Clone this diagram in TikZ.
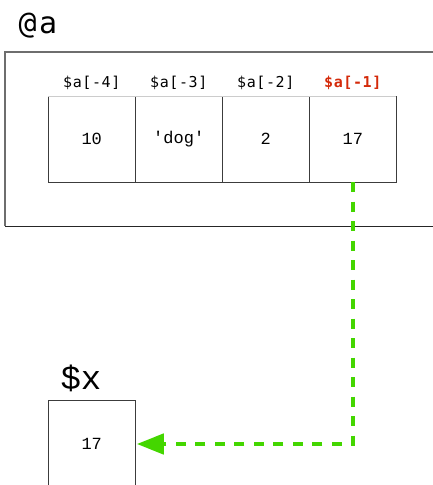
\documentclass[tikz,border=0pt]{standalone}
\usepackage{fontspec}
\usepackage{xcolor}
\usetikzlibrary{arrows.meta,positioning}
\newfontfamily\monosans[LetterSpace=4]{DejaVu Sans Mono}
\newfontfamily\monobig[LetterSpace=8]{DejaVu Sans Mono}
\newfontfamily\monoserif{Liberation Mono}
\definecolor{linkgreen}{HTML}{44D600}
\definecolor{lastred}{HTML}{D42A0A}
\definecolor{cellgray}{HTML}{3C3C3C}
\definecolor{framegray}{HTML}{6E6E6E}

\begin{document}
\begin{tikzpicture}[
  x=1pt,y=1pt,
  cell/.style={draw=cellgray,line width=.9pt,outer sep=0pt,minimum width=87pt,minimum height=86pt,
    font=\monoserif\fontsize{17}{19}\selectfont},
  idx/.style={font=\monosans\fontsize{15}{17}\selectfont,inner sep=0pt},
  varname/.style={inner sep=0pt}
]
  \useasboundingbox (0,0) rectangle (432,-485);
  % the array
  \draw[framegray,line width=1.1pt] (440,-52) -- (5,-52) -- (5,-226);
  \draw[black!85,line width=.9pt] (5,-226) -- (440,-226);
  \node[varname,font=\monobig\fontsize{30}{34}\selectfont] (aname) at (38,-26) {@a};
  \node[cell] (c1) at (91.75,-139) {10};
  \node[cell,right=0pt of c1] (c2) {'dog'};
  \node[cell,right=0pt of c2] (c3) {2};
  \node[cell,right=0pt of c3] (c4) {17};
  \draw[black!20,line width=.9pt] (c1.north west) -- (c4.north east);
  \node[idx,above=6pt of c1] (i1) {\$a[-4]};
  \node[idx,above=6pt of c2] (i2) {\$a[-3]};
  \node[idx,above=6pt of c3] (i3) {\$a[-2]};
  \node[idx,above=6pt of c4,text=lastred,font=\monosans\bfseries\fontsize{15}{17}\selectfont] (i4) {\$a[-1]};
  % the scalar
  \node[varname,font=\monoserif\fontsize{34}{38}\selectfont] (xname) at (81,-378) {\$x};
  \node[cell,minimum height=87pt] (xval) at (91.75,-444) {17};
  % copy of the last element
  \draw[linkgreen,line width=4.5pt,dash pattern=on 10pt off 9.5pt,
    -{Triangle[length=27pt,width=20pt]},shorten >=1.5pt]
    (c4.south) |- (xval.east);
\end{tikzpicture}
\end{document}
